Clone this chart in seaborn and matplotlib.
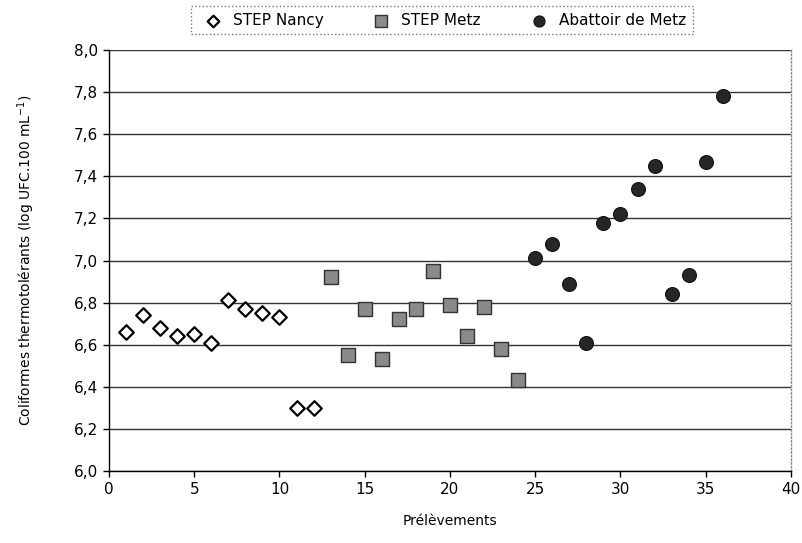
import numpy as np
import pandas as pd
import matplotlib
matplotlib.use("Agg")
import matplotlib.pyplot as plt
import seaborn as sns

nancy_x = list(range(1, 13))
nancy_y = [6.66, 6.74, 6.68, 6.64, 6.65, 6.61, 6.81, 6.77, 6.75, 6.73, 6.30, 6.30]
metz_x = list(range(13, 25))
metz_y = [6.92, 6.55, 6.77, 6.53, 6.72, 6.77, 6.95, 6.79, 6.64, 6.78, 6.58, 6.43]
abat_x = list(range(25, 37))
abat_y = [7.01, 7.08, 6.89, 6.61, 7.18, 7.22, 7.34, 7.45, 6.84, 6.93, 7.47, 7.78]
series = ["STEP Nancy", "STEP Metz", "Abattoir de Metz"]
x_ticks = [0, 5, 10, 15, 20, 25, 30, 35, 40]
y_ticks = [6.0, 6.2, 6.4, 6.6, 6.8, 7.0, 7.2, 7.4, 7.6, 7.8, 8.0]

df = pd.DataFrame({
    "x": nancy_x + metz_x + abat_x,
    "y": nancy_y + metz_y + abat_y,
    "s": [series[0]] * 12 + [series[1]] * 12 + [series[2]] * 12,
})

sns.set_theme(style="white")
plt.rcParams["font.family"] = ["DejaVu Sans"]
plt.rcParams["text.color"] = "black"
plt.rcParams["axes.labelcolor"] = "black"
plt.rcParams["xtick.color"] = "black"
plt.rcParams["ytick.color"] = "black"

fig = plt.figure(figsize=(8.03, 5.43), dpi=100)
ax = fig.add_axes([0.1357, 0.1326, 0.8493, 0.7753])

styles = {
    series[0]: dict(marker="D", facecolor="white", edgecolor="black", s=55, lw=1.6),
    series[1]: dict(marker="s", facecolor="#8a8a8a", edgecolor="#333333", s=110, lw=1.0),
    series[2]: dict(marker="o", facecolor="#262626", edgecolor="#111111", s=100, lw=0.8),
}
for name in series:
    st = styles[name]
    sub = df[df["s"] == name]
    sns.scatterplot(data=sub, x="x", y="y", ax=ax, marker=st["marker"],
                    color=st["facecolor"], edgecolor=st["edgecolor"],
                    s=st["s"], linewidth=st["lw"], label=name, zorder=3)

ax.set_xlim(0, 40)
ax.set_ylim(6.0, 8.0)
ax.set_xticks(x_ticks)
ax.set_yticks(y_ticks)
ax.set_xticklabels([str(t) for t in x_ticks], fontsize=11)
ax.set_yticklabels([f"{t:.1f}".replace(".", ",") for t in y_ticks], fontsize=11)
ax.yaxis.grid(True, color="#333333", linewidth=1.0)
ax.xaxis.grid(False)
ax.spines["top"].set_visible(False)
ax.spines["right"].set_color("#888888")
ax.spines["right"].set_linestyle(":")
ax.spines["right"].set_linewidth(1.0)
for sp in ["left", "bottom"]:
    ax.spines[sp].set_color("black")
    ax.spines[sp].set_linewidth(1.0)
ax.tick_params(axis="both", direction="out", length=4, color="black", width=1,
               left=True, bottom=True, pad=4)
ax.set_xlabel("Prélèvements", fontsize=10, labelpad=12)
ax.set_ylabel("Coliformes thermotolérants (log UFC.100 mL$^{-1}$)", fontsize=10, labelpad=26)

handles, labels = ax.get_legend_handles_labels()
ax.legend_.remove()
leg = fig.legend(handles, labels, loc="center", bbox_to_anchor=(0.55, 0.963), ncol=3,
                 frameon=True, fontsize=11, handletextpad=0.3, columnspacing=2.8,
                 borderpad=0.45, fancybox=False, markerscale=0.8)
leg.get_frame().set_edgecolor("#555555")
leg.get_frame().set_linestyle(":")
leg.get_frame().set_linewidth(1.0)

fig.savefig("out.png", dpi=100, facecolor="white")
